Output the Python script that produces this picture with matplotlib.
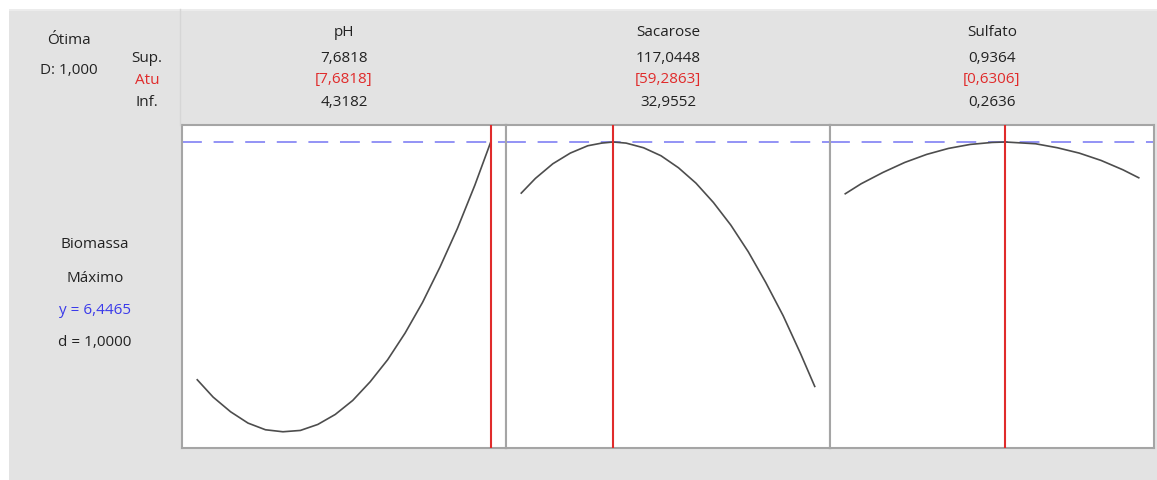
import matplotlib
matplotlib.use("Agg")
import matplotlib.pyplot as plt
from matplotlib.patches import Rectangle

plt.rcParams['font.family'] = ['Open Sans', 'DejaVu Sans']

# ---- data ----
factors = ["pH", "Sacarose", "Sulfato"]
sup_labels = ["7,6818", "117,0448", "0,9364"]
atu_labels = ["[7,6818]", "[59,2863]", "[0,6306]"]
inf_labels = ["4,3182", "32,9552", "0,2636"]
lows = [4.3182, 32.9552, 0.2636]
highs = [7.6818, 117.0448, 0.9364]
current = [7.6818, 59.2863, 0.6306]

ph_x = [4.3182, 4.5, 4.7, 4.9, 5.1, 5.3, 5.5, 5.7, 5.9, 6.1, 6.3, 6.5, 6.7, 6.9,
        7.1, 7.3, 7.5, 7.6818]
ph_y = [2.88, 2.62, 2.40, 2.23, 2.13, 2.10, 2.12, 2.21, 2.36, 2.57, 2.85, 3.18, 3.58,
        4.04, 4.57, 5.15, 5.80, 6.4465]

sac_x = [32.9552, 37, 42, 47, 52, 56, 59.2863, 63, 68, 73, 78, 83, 88, 93, 98, 103,
         108, 113, 117.0448]
sac_y = [5.68, 5.90, 6.12, 6.28, 6.39, 6.43, 6.4465, 6.43, 6.36, 6.24, 6.06, 5.83,
         5.54, 5.20, 4.80, 4.34, 3.84, 3.27, 2.78]

sul_x = [0.2636, 0.30, 0.35, 0.40, 0.45, 0.50, 0.55, 0.60, 0.6306, 0.70, 0.75, 0.80,
         0.85, 0.90, 0.9364]
sul_y = [5.67, 5.82, 5.99, 6.14, 6.26, 6.35, 6.41, 6.44, 6.4465, 6.42, 6.36, 6.28,
         6.17, 6.03, 5.91]

y_opt = 6.4465
y_limits = (1.8565, 6.7015)

curves_x = [ph_x, sac_x, sul_x]
curves_y = [ph_y, sac_y, sul_y]

# ---- figure ----
W, H = 1157, 481
fig = plt.figure(figsize=(W / 100, H / 100), dpi=100)
fig.patch.set_facecolor("white")

def fx(px):
    return px / W

def fy(py):
    return 1 - py / H

# gray background panel
fig.patches.append(Rectangle((fx(9), 0), 1 - fx(9), fy(10), transform=fig.transFigure,
                             facecolor="#e3e3e3", edgecolor="none", zorder=-10))
fig.patches.append(Rectangle((fx(9), fy(12)), 1 - fx(9), fy(10) - fy(12), transform=fig.transFigure,
                             facecolor="#ececec", edgecolor="none", zorder=-9))

left_px = 182
panel_w = 324
top_px = 126
bot_px = 449
spine_col = "#a5a5a5"
red = "#e02b2b"
blue_line = "#8a8af5"
fs = 11

for i in range(3):
    ax = fig.add_axes([fx(left_px + i * panel_w), fy(bot_px),
                       panel_w / W, (bot_px - top_px) / H])
    ax.set_zorder(1)
    ax.set_facecolor("white")
    rng = highs[i] - lows[i]
    ax.set_xlim(lows[i] - rng * 0.052, highs[i] + rng * 0.052)
    ax.set_ylim(*y_limits)
    ax.plot(curves_x[i], curves_y[i], color="#4d4d4d", lw=1.2, zorder=3,
            solid_joinstyle="round")
    ax.axvline(current[i], color=red, lw=1.5, zorder=4)
    ax.axhline(y_opt, color=blue_line, lw=1.3, dashes=(11, 6.5), zorder=2)
    ax.set_xticks([])
    ax.set_yticks([])
    for s in ax.spines.values():
        s.set_color(spine_col)
        s.set_linewidth(1.5)
    cx = fx(left_px + i * panel_w + panel_w / 2)
    fig.text(cx, fy(33), factors[i], ha="center", va="center", fontsize=fs, color="#222222")
    fig.text(cx, fy(58), sup_labels[i], ha="center", va="center", fontsize=fs, color="#222222")
    fig.text(cx, fy(80), atu_labels[i], ha="center", va="center", fontsize=fs, color=red)
    fig.text(cx, fy(103), inf_labels[i], ha="center", va="center", fontsize=fs, color="#222222")

# faint separator above left axis
fig.add_artist(plt.Line2D([fx(180), fx(180)], [fy(10), fy(126)], transform=fig.transFigure,
                          color="#d6d6d6", lw=1))

# left-side texts
fig.text(fx(69), fy(41), "Ótima", ha="center", va="center", fontsize=fs, color="#222222")
fig.text(fx(69), fy(70), "D: 1,000", ha="center", va="center", fontsize=fs, color="#222222")
fig.text(fx(147), fy(58), "Sup.", ha="center", va="center", fontsize=fs, color="#222222")
fig.text(fx(147), fy(80), "Atu", ha="center", va="center", fontsize=fs, color=red)
fig.text(fx(147), fy(103), "Inf.", ha="center", va="center", fontsize=fs, color="#222222")

fig.text(fx(95), fy(245), "Biomassa", ha="center", va="center", fontsize=fs, color="#222222")
fig.text(fx(95), fy(278), "Máximo", ha="center", va="center", fontsize=fs, color="#222222")
fig.text(fx(95), fy(310), "y = 6,4465", ha="center", va="center", fontsize=fs, color="#3b3bea")
fig.text(fx(95), fy(342), "d = 1,0000", ha="center", va="center", fontsize=fs, color="#222222")

fig.savefig("out.png", dpi=100, facecolor=fig.get_facecolor())
